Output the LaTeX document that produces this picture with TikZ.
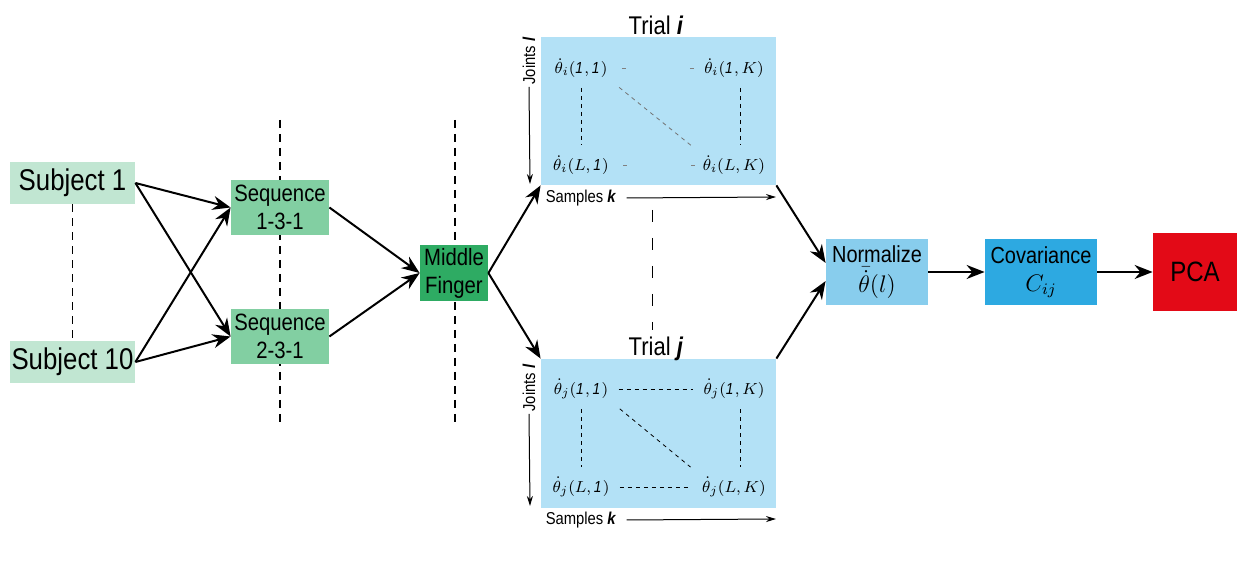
\documentclass[tikz,border=0pt]{standalone}
\usepackage{amsmath}
\usepackage{fontspec}
\setmainfont{Liberation Sans}[FakeStretch=0.86]
\usepackage{tikz}
\usetikzlibrary{arrows.meta}
\pgfdeclarelayer{background}
\pgfsetlayers{background,main}
\definecolor{subjcol}{HTML}{C1E6D2}
\definecolor{seqcol}{HTML}{82CFA2}
\definecolor{midcol}{HTML}{2EAB63}
\definecolor{trialcol}{HTML}{B3E1F6}
\definecolor{normcol}{HTML}{88CDED}
\definecolor{covcol}{HTML}{2DA9E1}
\definecolor{pcacol}{HTML}{E30A17}

\begin{document}
\begin{tikzpicture}[x=0.5pt,y=-0.5pt,
  box/.style={inner sep=0pt,align=center},
  arr/.style={line width=1pt,-{Stealth[length=9pt,width=7pt]}},
  sep/.style={line width=0.8pt,dash pattern=on 4pt off 3pt},
  axis/.style={line width=0.5pt,-{Stealth[length=5pt,width=3pt]}},
  entry/.style={font=\fontsize{8}{9}\selectfont,inner sep=1pt},
  grid/.style={line width=0.4pt,dash pattern=on 2pt off 2pt,shorten >=4pt,shorten <=4pt},
  faint/.style={line width=0.4pt,gray,dash pattern=on 0pt off 6pt on 2pt off 32pt on 2pt off 20pt}]
\useasboundingbox (0,0) rectangle (1259,565);
% first column
\node[box,fill=subjcol,minimum width=62.5pt,minimum height=21pt,font=\fontsize{15}{17}\selectfont] (sub1) at (72.5,183) {Subject 1};
\node[box,fill=subjcol,minimum width=62.5pt,minimum height=21pt,font=\fontsize{15}{17}\selectfont] (sub10) at (72.5,362) {Subject 10};
\node[box,fill=seqcol,minimum width=49pt,minimum height=27.5pt,font=\fontsize{11.8}{14}\selectfont] (seqA) at (280,207.5) {Sequence\\1-3-1};
\node[box,fill=seqcol,minimum width=49pt,minimum height=27.5pt,font=\fontsize{11.8}{14}\selectfont] (seqB) at (280,336.5) {Sequence\\2-3-1};
\node[box,fill=midcol,minimum width=34pt,minimum height=28pt,font=\fontsize{11.8}{14}\selectfont] (mid) at (454,273) {Middle\\Finger};
% trials
\node[box,fill=trialcol,minimum width=117.5pt,minimum height=74pt] (triali) at (658.5,111) {};
\node[box,fill=trialcol,minimum width=117.5pt,minimum height=74.5pt] (trialj) at (658.5,433.5) {};
\node[font=\fontsize{12.8}{14}\selectfont] (titlei) at (656,25) {Trial \textbf{\textit{i}}};
\node[font=\fontsize{12.8}{14}\selectfont] (titlej) at (656,349) {Trial \textbf{\textit{j}}};
\node[entry] (i11) at (581,68) {$\dot{\theta}_i(\mathit{1},\mathit{1})$};
\node[entry] (i1K) at (734,68) {$\dot{\theta}_i(\mathit{1},K)$};
\node[entry] (iL1) at (581,165) {$\dot{\theta}_i(L,\mathit{1})$};
\node[entry] (iLK) at (734,165) {$\dot{\theta}_i(L,K)$};
\node[entry] (j11) at (581,389) {$\dot{\theta}_j(\mathit{1},\mathit{1})$};
\node[entry] (j1K) at (734,389) {$\dot{\theta}_j(\mathit{1},K)$};
\node[entry] (jL1) at (581,487) {$\dot{\theta}_j(L,\mathit{1})$};
\node[entry] (jLK) at (734,487) {$\dot{\theta}_j(L,K)$};
\draw[grid] (i11.south) -- (iL1.north);
\draw[grid] ([xshift=3pt]i1K.south) -- ([xshift=3pt]iLK.north);
\draw[grid,black!55,shorten <=6pt,shorten >=6pt] (i11.south east) -- (iLK.north west);
\draw[faint] (i11.east) -- (i1K.west);
\draw[faint] (iL1.east) -- (iLK.west);
\draw[grid] (j11.south) -- (jL1.north);
\draw[grid] ([xshift=3pt]j1K.south) -- ([xshift=3pt]jLK.north);
\draw[grid,shorten <=6pt,shorten >=6pt] (j11.south east) -- (jLK.north west);
\draw[grid] (j11.east) -- (j1K.west);
\draw[grid] (jL1.east) -- (jLK.west);
% axes
\node[font=\fontsize{8.6}{10}\selectfont,rotate=90,inner sep=1pt] (ji) at (529,61) {Joints \textbf{\textit{l}}};
\node[font=\fontsize{8.6}{10}\selectfont,rotate=90,inner sep=1pt] (jj) at (529,388) {Joints \textbf{\textit{l}}};
\node[font=\fontsize{8.6}{10}\selectfont,inner sep=1pt] (si) at (581,198) {Samples \textbf{\textit{k}}};
\node[font=\fontsize{8.6}{10}\selectfont,inner sep=1pt] (sj) at (581,520) {Samples \textbf{\textit{k}}};
\coordinate (jiend) at (530,184);
\coordinate (jjend) at (530,506);
\coordinate (siend) at (776,197);
\coordinate (sjend) at (776,519);
\draw[axis] (ji.west) -- (jiend);
\draw[axis] (jj.west) -- (jjend);
\draw[axis] ([xshift=4pt]si.east) -- (siend);
\draw[axis] ([xshift=4pt]sj.east) -- (sjend);
% last column
\node[box,fill=normcol,minimum width=51pt,minimum height=33pt,font=\fontsize{11.6}{14}\selectfont] (norm) at (877,272) {Normalize\\[1pt]$\bar{\dot{\theta}}(l)$};
\node[box,fill=covcol,minimum width=56pt,minimum height=33pt,font=\fontsize{11.6}{14}\selectfont] (cov) at (1041,272) {Covariance\\$C_{ij}$};
\node[box,fill=pcacol,minimum width=42pt,minimum height=39pt,font=\fontsize{14}{16}\selectfont] (pca) at (1195,272) {PCA};
% connectors
\draw[arr] (sub1.east) -- (seqA.west);
\draw[arr] (sub1.east) -- (seqB.west);
\draw[arr] (sub10.east) -- (seqA.west);
\draw[arr] (sub10.east) -- (seqB.west);
\draw[arr] (seqA.east) -- (mid.west);
\draw[arr] (seqB.east) -- (mid.west);
\draw[arr] (mid.east) -- (triali.south west);
\draw[arr] (mid.east) -- (trialj.north west);
\draw[arr] (triali.south east) -- (norm.170);
\draw[arr] (trialj.north east) -- (norm.190);
\draw[arr] (norm) -- (cov);
\draw[arr] (cov) -- (pca);
\begin{pgfonlayer}{background}
\coordinate (cutAt) at (280,120);
\coordinate (cutAb) at (280,425);
\coordinate (cutBt) at (455,120);
\coordinate (cutBb) at (455,425);
\coordinate (cutCt) at (652,210);
\coordinate (cutCb) at (652,330);
\draw[sep] (sub1.south) -- (sub10.north);
\draw[sep] (cutAt) -- (cutAb);
\draw[sep] (cutBt) -- (cutBb);
\draw[line width=0.5pt,dash pattern=on 6pt off 8pt] (cutCt) -- (cutCb);
\end{pgfonlayer}
\end{tikzpicture}
\end{document}
